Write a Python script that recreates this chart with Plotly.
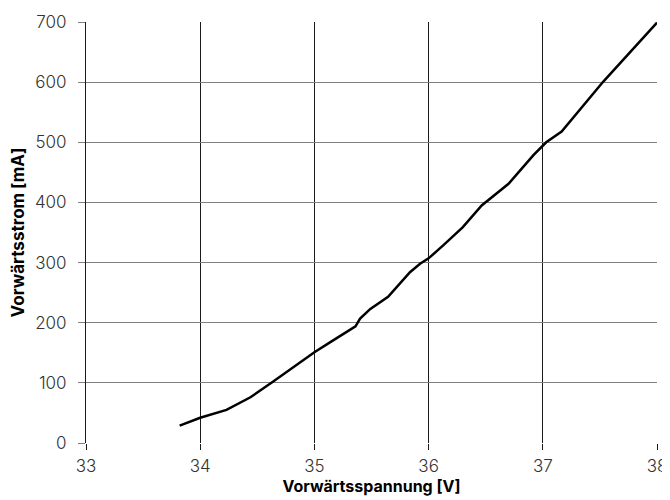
import plotly.graph_objects as go

voltage = [33.82, 34.0, 34.23, 34.44, 34.63, 35.0, 35.15, 35.31, 35.36, 35.40, 35.49, 35.645,
           35.735, 35.837, 35.925, 36.0, 36.13, 36.30, 36.465, 36.70, 36.92, 37.03, 37.165,
           37.53, 38.0]
current = [29, 42, 55, 76, 101, 151, 169, 187, 194, 207, 223, 243,
           262, 284, 298, 307, 329, 359, 395, 431, 479, 500, 518,
           601, 699]

x_ticks = [33, 34, 35, 36, 37, 38]
y_ticks = [0, 100, 200, 300, 400, 500, 600, 700]

fig = go.Figure()
fig.add_trace(go.Scatter(x=voltage, y=current, mode="lines",
                         line=dict(color="black", width=2.5), showlegend=False))

font_family = "Inter, Noto Sans, sans-serif"
# page body has an 8px margin, so margins are offset to place the plot area
fig.update_layout(
    width=670, height=500,
    margin=dict(l=78, r=21, t=14, b=65),
    plot_bgcolor="white", paper_bgcolor="white",
    font=dict(family=font_family, color="#222"),
    xaxis=dict(range=[33, 38], tickvals=x_ticks, showgrid=True, gridcolor="#1a1a1a", gridwidth=1,
               ticks="outside", ticklen=6, tickcolor="#1a1a1a", zeroline=False, automargin=False,
               ticklabelstandoff=2,
               tickfont=dict(size=17, color="#333", weight=300),
               title=dict(text="Vorwärtsspannung [V]", font=dict(size=16, color="black", weight="bold"), standoff=4)),
    yaxis=dict(range=[0, 700], tickvals=y_ticks, showgrid=True, gridcolor="#808080", gridwidth=1,
               ticks="outside", ticklen=7, tickcolor="#808080", zeroline=False, automargin=False,
               showline=True, linecolor="#1a1a1a", linewidth=1,
               ticklabelstandoff=8,
               tickfont=dict(size=17, color="#333", weight=300),
               title=dict(text="Vorwärtsstrom [mA]", font=dict(size=17, color="black", weight="bold"), standoff=12)),
)
fig.write_html("out.html")
